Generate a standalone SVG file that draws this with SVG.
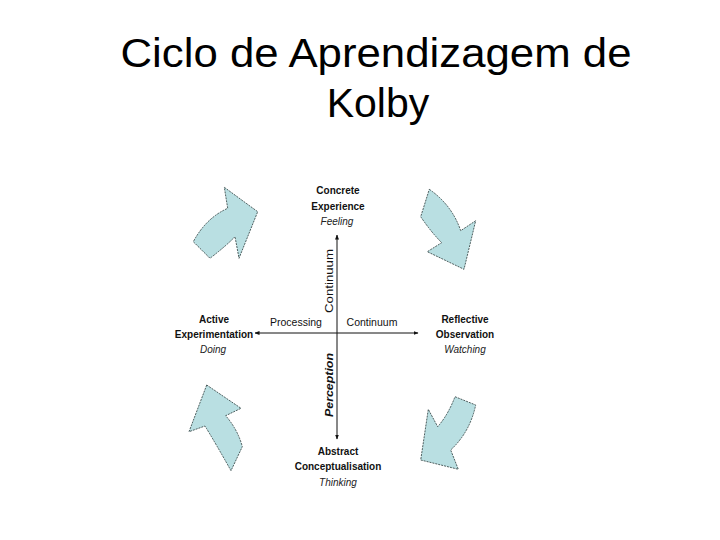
<svg xmlns="http://www.w3.org/2000/svg" width="720" height="540" viewBox="0 0 720 540">
<defs>
<style>
.title{font-family:"Liberation Sans",Arial,sans-serif;font-size:41px;fill:#000;text-anchor:middle}
.lbl{font-family:"Liberation Sans",Arial,sans-serif;font-size:10px;font-weight:bold;fill:#111;text-anchor:middle}
.it{font-family:"Liberation Sans",Arial,sans-serif;font-size:10px;font-style:italic;fill:#222;text-anchor:middle}
.ax{font-family:"Liberation Sans",Arial,sans-serif;font-size:10.5px;fill:#111;text-anchor:middle}
.cyc{fill:#b9dfe2;stroke:#2a3a3a;stroke-width:0.8;stroke-dasharray:2 1}
.line{stroke:#111;stroke-width:1;fill:none}
</style>
<marker id="ah" viewBox="0 0 10 10" refX="9" refY="5" markerWidth="5" markerHeight="5" orient="auto">
<path d="M0,1 L10,5 L0,9 z" fill="#111"/>
</marker>
</defs>
<rect width="720" height="540" fill="#fff"/>
<g id="title">
<text class="title" x="376" y="67" textLength="511" lengthAdjust="spacingAndGlyphs">Ciclo de Aprendizagem de</text>
<text class="title" x="378" y="117">Kolby</text>
</g>
<g id="connectors">
<line class="line" x1="337" y1="333" x2="337" y2="235" marker-end="url(#ah)"/>
<line class="line" x1="337" y1="333" x2="337" y2="439" marker-end="url(#ah)"/>
<line class="line" x1="337" y1="333" x2="255" y2="333" marker-end="url(#ah)"/>
<line class="line" x1="337" y1="333" x2="418" y2="333" marker-end="url(#ah)"/>
<path id="cyc-tl" class="cyc" d="M224.3,187.3 L257.7,211.7 L239,258.3 L235,236.7 Q226,246 210,258.3 L193.3,241.7 Q206,218 227.7,208.3 Z"/>
<path id="cyc-tr" class="cyc" d="M429.3,189.3 Q452,205 460.7,230.7 L475.7,220.7 L464,269.3 L427.3,251.7 L441.7,242.7 Q431,232 420.7,216.7 Z"/>
<path id="cyc-br" class="cyc" d="M455,396.7 L475.7,405 Q470,432 450.7,450 L458.3,469.3 L420.7,460 L428.3,409.3 L437.7,426.7 Q448,415 455,396.7 Z"/>
<path id="cyc-bl" class="cyc" d="M206.7,385 L241,408.3 L225.7,415.7 Q238,430 242.3,446.7 L231,470.7 Q216,444 205,426 L189,431.7 Z"/>
</g>
<g id="concrete">
<text class="lbl" x="338" y="194">Concrete</text>
<text class="lbl" x="338" y="210">Experience</text>
<text class="it" x="337" y="225">Feeling</text>
</g>
<g id="active">
<text class="lbl" x="214" y="323">Active</text>
<text class="lbl" x="214" y="338">Experimentation</text>
<text class="it" x="213" y="353">Doing</text>
</g>
<g id="reflective">
<text class="lbl" x="465" y="323">Reflective</text>
<text class="lbl" x="465" y="338">Observation</text>
<text class="it" x="465" y="353">Watching</text>
</g>
<g id="abstract">
<text class="lbl" x="338" y="455">Abstract</text>
<text class="lbl" x="338" y="470">Conceptualisation</text>
<text class="it" x="338" y="486">Thinking</text>
</g>
<g id="axis-labels">
<text class="ax" x="296" y="326">Processing</text>
<text class="ax" x="372" y="326">Continuum</text>
<text class="ax" transform="translate(333,281) rotate(-90)" textLength="64" lengthAdjust="spacingAndGlyphs">Continuum</text>
<text class="ax" font-style="italic" font-weight="bold" transform="translate(333,385) rotate(-90)" textLength="64" lengthAdjust="spacingAndGlyphs">Perception</text>
</g>
</svg>
